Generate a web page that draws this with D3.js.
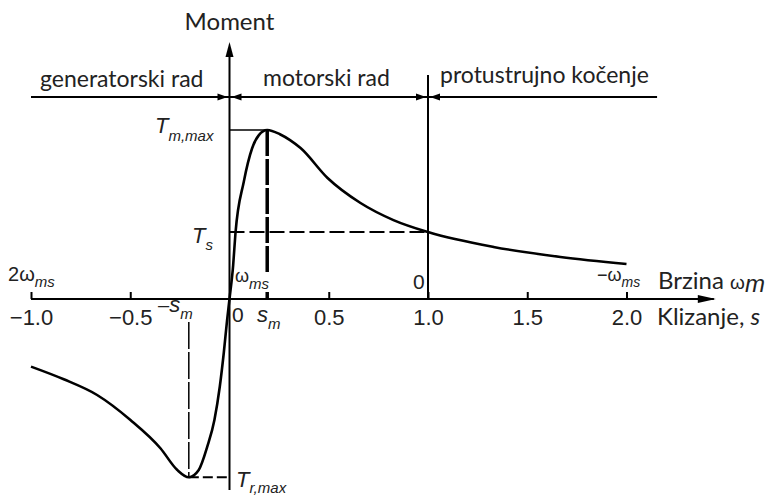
<!DOCTYPE html>
<html>
<head>
<meta charset="utf-8">
<script src="https://cdn.jsdelivr.net/npm/d3@7"></script>
<style>
    body { margin: 0; background: #fff; }
    svg { display: block; }
    .lbl { font-family: Lato, "Open Sans", sans-serif; fill: #222; }
    .math { font-family: "Liberation Sans", Arial, sans-serif; fill: #222; }
</style>
</head>
<body>
<div id="main"></div>
<script>
// slip s (s = 1 -> rotor at standstill)
var slip = [-1.0, -0.835, -0.667, -0.499, -0.348, -0.263, -0.205, -0.155, -0.112, -0.076, -0.049, -0.029, -0.012,
    0, 0.0185, 0.030, 0.072, 0.114, 0.148, 0.19, 0.254, 0.305, 0.358, 0.494, 0.66, 0.826, 1.0, 1.33, 1.667, 2.0];
// torque relative to T_m,max
var torque = [-0.40, -0.475, -0.568, -0.716, -0.883, -1.012, -1.055, -1.012, -0.874, -0.716, -0.519, -0.321, -0.124,
    0, 0.201, 0.389, 0.694, 0.892, 0.970, 1.0, 0.975, 0.94, 0.893, 0.716, 0.568, 0.467, 0.396, 0.308, 0.249, 0.207];

var slipTicks = [-1.0, -0.5, 0.5, 1.0, 1.5, 2.0];
var slipTickLabels = ["\u22121.0", "\u22120.5", "0.5", "1.0", "1.5", "2.0"];
var regionLabels = ["generatorski rad", "motorski rad", "protustrujno kočenje"];

var width = 775,
    height = 495;

var svg = d3.select('#main')
    .append('svg')
    .attr('width', width)
    .attr('height', height);

var x = d3.scaleLinear().domain([-1, 2]).range([31, 626.5]);
var y = d3.scaleLinear().domain([0, 1]).range([299, 130]);

var points = slip.map(function(s, i) { return {s: s, t: torque[i]}; });

var tMax = d3.max(torque),
    tMin = d3.min(torque),
    sm = slip[torque.indexOf(tMax)],
    smNeg = slip[torque.indexOf(tMin)],
    ts = torque[slip.indexOf(1.0)];

function seg(x1, y1, x2, y2, w, dash) {
    var l = svg.append('line')
        .attr('x1', x1).attr('y1', y1)
        .attr('x2', x2).attr('y2', y2)
        .attr('stroke', '#000')
        .attr('stroke-width', w);
    if (dash) l.attr('stroke-dasharray', dash);
    return l;
}

// filled arrow head, tip at (px,py), dir in degrees (0 = right)
function head(px, py, dir, len, half) {
    svg.append('path')
        .attr('d', 'M0,0L' + (-len) + ',' + (-half) + 'L' + (-len) + ',' + half + 'Z')
        .attr('transform', 'translate(' + px + ',' + py + ') rotate(' + dir + ')')
        .attr('fill', '#000');
}

// x axis (ticks point up, labels below)
var xAxis = d3.axisBottom(x)
    .tickValues(slipTicks)
    .tickFormat(function(d, i) { return slipTickLabels[i]; })
    .tickSizeInner(-7)
    .tickSizeOuter(0)
    .tickPadding(10);

var gx = svg.append('g')
    .attr('transform', 'translate(0,' + y(0) + ')')
    .call(xAxis);
gx.select('.domain').remove();
gx.selectAll('.tick line').attr('stroke', '#000').attr('stroke-width', 2);
gx.selectAll('.tick text')
    .attr('class', 'math')
    .style('font-size', '22px')
    .style('font-family', '"Liberation Sans", Arial, sans-serif')
    .attr('fill', '#222');

seg(x(-1), y(0), x(2.44), y(0), 2);
head(x(2.45), y(0), 0, 18, 4);

// torque axis
seg(x(0), y(-1.13), x(0), y(1.47), 2);
head(x(0), y(1.52), -90, 15, 4);

// operating regions
var yReg = y(1.195);
seg(x(-1), yReg, x(2.154), yReg, 2);
seg(x(1), y(1.325), x(1), y(0), 2);
head(x(0) - 2, yReg, 0, 10, 3.5);
head(x(0) + 2, yReg, 180, 10, 3.5);
head(x(1) - 2, yReg, 0, 10, 3.5);
head(x(1) + 2, yReg, 180, 10, 3.5);

svg.selectAll('text.region')
    .data(regionLabels)
    .enter()
    .append('text')
    .attr('class', 'lbl region')
    .attr('x', function(d, i) { return [40, 263, 440][i]; })
    .attr('y', function(d, i) { return [87, 86, 83][i]; })
    .style('font-size', '23px')
    .text(function(d) { return d; });

// guide lines
seg(x(0), y(tMax), x(sm), y(tMax), 1.5);
seg(x(sm), y(tMax), x(sm), 273, 3.5, '26,3');
seg(x(sm), y(0), x(sm), y(0) - 7, 3.5);
seg(x(0), y(ts), x(1), y(ts), 2, '15,5');
seg(x(smNeg), 322, x(smNeg), y(tMin), 1.5, '27,3');
seg(x(smNeg), y(tMin), x(0), y(tMin), 2, '10,4');

// torque-slip curve
var line = d3.line()
    .x(function(d) { return x(d.s); })
    .y(function(d) { return y(d.t); })
    .curve(d3.curveMonotoneX);

svg.append('path')
    .datum(points)
    .attr('d', line)
    .attr('fill', 'none')
    .attr('stroke', '#000')
    .attr('stroke-width', 2.6);

// labels
svg.append('text')
    .attr('class', 'lbl')
    .attr('x', x(0))
    .attr('y', 30)
    .attr('text-anchor', 'middle')
    .style('font-size', '24px')
    .text('Moment');

function mathLabel(px, py, parts) {
    var t = svg.append('text').attr('class', 'math').attr('x', px).attr('y', py);
    parts.forEach(function(p) {
        t.append('tspan')
            .attr('dy', p.dy || 0)
            .style('font-size', p.size + 'px')
            .style('font-style', p.italic ? 'italic' : 'normal')
            .text(p.text);
    });
    return t;
}

mathLabel(155, 133, [{text: 'T', size: 22, italic: true}, {text: 'm,max', size: 15, italic: true, dy: 8}]);
mathLabel(192, 243, [{text: 'T', size: 22, italic: true}, {text: 's', size: 15, italic: true, dy: 7}]);
mathLabel(236, 487, [{text: 'T', size: 22, italic: true}, {text: 'r,max', size: 15, italic: true, dy: 6}]);

mathLabel(8, 281, [{text: '2', size: 20}, {text: '\u03c9', size: 20}, {text: 'ms', size: 15, italic: true, dy: 6}]);
mathLabel(235, 282, [{text: '\u03c9', size: 18}, {text: 'ms', size: 15, italic: true, dy: 7}]);
mathLabel(597, 281, [{text: '\u2212\u03c9', size: 18}, {text: 'ms', size: 14, italic: true, dy: 6}]);
mathLabel(413, 289, [{text: '0', size: 21}]);
mathLabel(232, 322, [{text: '0', size: 21}]);

mathLabel(257, 322, [{text: 's', size: 22, italic: true}, {text: 'm', size: 15, italic: true, dy: 7}]);
mathLabel(158, 312, [{text: '\u2013', size: 20}, {text: 's', size: 22, italic: true}, {text: 'm', size: 15, italic: true, dy: 7}]);

svg.append('text')
    .attr('class', 'lbl')
    .attr('x', 658)
    .attr('y', 289)
    .style('font-size', '24px')
    .text('Brzina ')
    .append('tspan')
    .attr('class', 'math')
    .style('font-size', '19px')
    .text('\u03c9')
    .append('tspan')
    .style('font-style', 'italic')
    .style('font-size', '24px')
    .attr('dy', 3)
    .text('m');

svg.append('text')
    .attr('class', 'lbl')
    .attr('x', 657)
    .attr('y', 325)
    .style('font-size', '24px')
    .text('Klizanje, ')
    .append('tspan')
    .style('font-style', 'italic')
    .text('s');
</script>
</body>
</html>
